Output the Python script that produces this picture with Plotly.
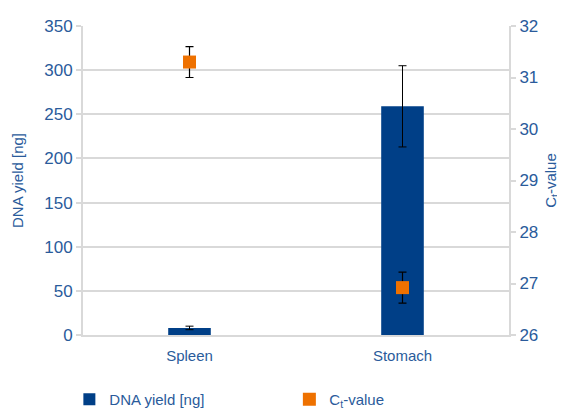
import plotly.graph_objects as go

categories = ["Spleen", "Stomach"]
dna_yield = [8, 259]
dna_err = [2, 46]
ct_value = [31.3, 26.92]
ct_err = [0.3, 0.3]

left_ticks = [0, 50, 100, 150, 200, 250, 300, 350]
right_ticks = [26, 27, 28, 29, 30, 31, 32]

blue_text = "#2a5b9b"
bar_color = "#003f87"
orange = "#ee7100"
grid = "#d9d9d9"
font_family = "Liberation Sans, Arial, sans-serif"

fig = go.Figure()
fig.add_trace(go.Bar(
    x=categories, y=dna_yield, name="DNA yield [ng]",
    marker=dict(color=bar_color, line=dict(width=0)),
    width=0.2,
    error_y=dict(type="data", array=dna_err, color="black", thickness=1, width=4),
))
fig.add_trace(go.Scatter(
    x=categories, y=ct_value, name="C<sub>t</sub>-value", yaxis="y2",
    mode="markers",
    marker=dict(symbol="square", size=13, color=orange),
    error_y=dict(type="data", array=ct_err, color="black", thickness=1.2, width=4),
))

fig.update_layout(
    width=557, height=404,
    margin=dict(l=75, r=56, t=18, b=77, autoexpand=False),
    paper_bgcolor="white", plot_bgcolor="white",
    font=dict(family=font_family, color=blue_text, size=15),
    showlegend=True,
    legend=dict(orientation="h", x=-0.032, xanchor="left", y=-0.155, yanchor="top",
                font=dict(size=15, color=blue_text), itemwidth=30,
                entrywidth=175, entrywidthmode="pixels"),
    xaxis=dict(showgrid=False, showline=True, linecolor=grid, linewidth=2,
               tickfont=dict(size=15, color=blue_text), ticks="", zeroline=False,
               ticklabelstandoff=6),
    yaxis=dict(range=[0, 350], tickvals=left_ticks, showgrid=True, gridcolor=grid, gridwidth=2,
               showline=True, linecolor=grid, linewidth=2, ticks="outside", ticklen=5,
               tickcolor=grid, tickwidth=2, zeroline=False,
               tickfont=dict(size=17, color=blue_text),
               title=dict(text="DNA yield [ng]", font=dict(size=15, color=blue_text), standoff=17)),
    yaxis2=dict(range=[26, 32], tickvals=right_ticks, overlaying="y", side="right",
                showgrid=False, showline=True, linecolor=grid, linewidth=2,
                ticks="outside", ticklen=5, tickcolor=grid, tickwidth=2, zeroline=False,
                tickfont=dict(size=17, color=blue_text),
                title=dict(text="C<sub>t</sub>-value", font=dict(size=15, color=blue_text), standoff=8)),
)

fig.write_html("out.html")
